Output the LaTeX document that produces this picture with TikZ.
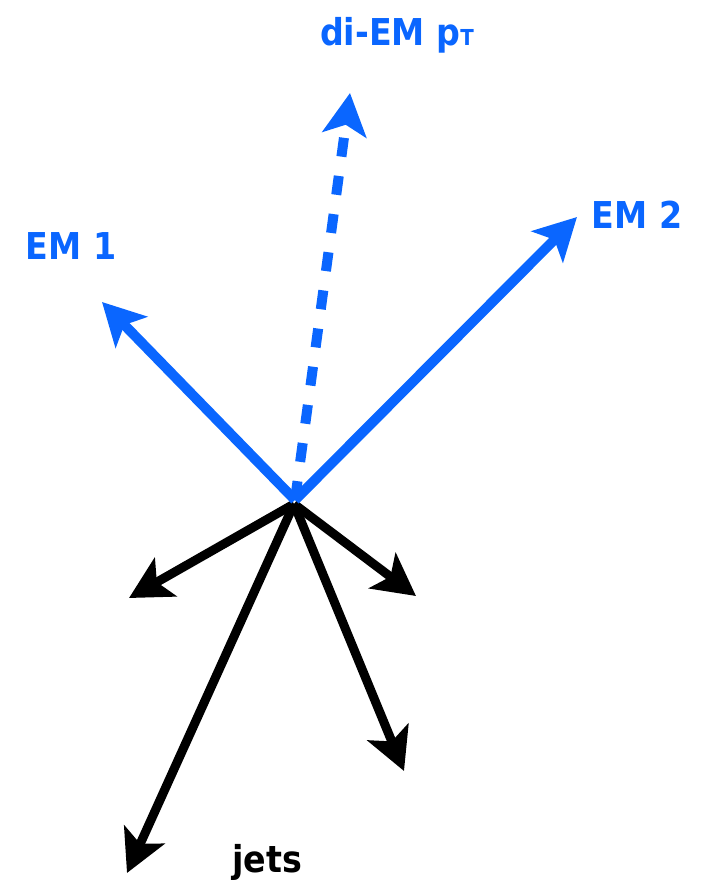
\documentclass[tikz,border=0pt]{standalone}
\usepackage{fontspec}
\setmainfont{DejaVu Sans}
\newfontfamily\lblfont{DejaVu Sans Condensed}
\usetikzlibrary{arrows.meta}
\definecolor{emblue}{RGB}{10,102,255}
\begin{document}
\begin{tikzpicture}[x=1pt,y=-1pt,
  vec/.style={line width=#1, -{Stealth[length=42pt,width=44pt,inset=10pt]}},
  bluevec/.style={vec=10pt, draw=emblue},
  jetvec/.style={vec=9pt, draw=black},
  lbl/.style={inner sep=0pt, anchor=base, font=\lblfont\bfseries\fontsize{37}{40}\selectfont}]
\useasboundingbox (0,0) rectangle (703,884);
\coordinate (o) at (295,500);
\coordinate (oj) at (294,504);
\coordinate (t1) at (102,302);
\coordinate (t2) at (577,217);
\coordinate (td) at (350,93);
\coordinate (j1) at (129,598);
\coordinate (j2) at (416,596);
\coordinate (j3) at (404,771);
\coordinate (j4) at (127,873);
\draw[jetvec] (oj) -- (j1);
\draw[jetvec] (oj) -- (j2);
\draw[jetvec] (oj) -- (j3);
\draw[jetvec] (oj) -- (j4);
\draw[bluevec] (o) -- (t1);
\draw[bluevec] (o) -- (t2);
\draw[bluevec, dash pattern=on 19pt off 19.5pt] (o) -- (td);
\node[lbl, text=emblue] (ldi) at (397,45) {di-EM p{\fontsize{22}{24}\selectfont T}};
\node[lbl, text=emblue] (l1) at (71,259) {EM 1};
\node[lbl, text=emblue] (l2) at (637,228) {EM 2};
\node[lbl] (lj) at (267,872) {jets};
\end{tikzpicture}
\end{document}
